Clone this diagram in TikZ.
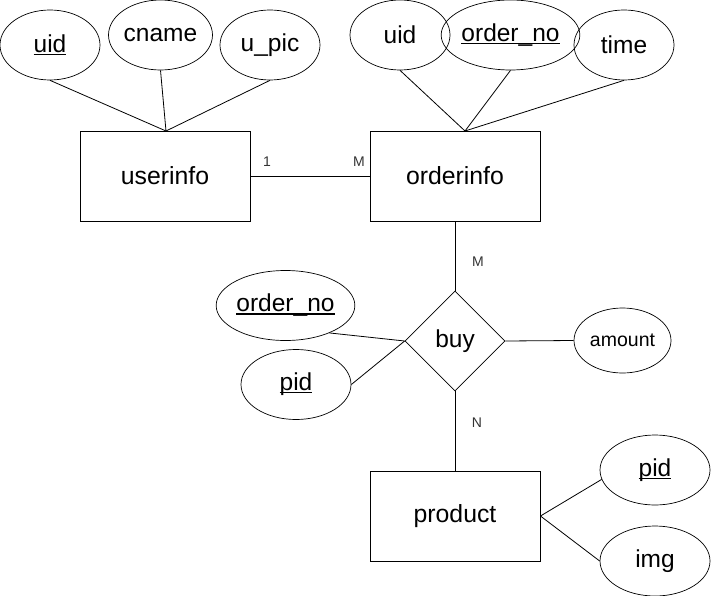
\documentclass[tikz,border=0pt]{standalone}
\usepackage{fontspec}
\setmainfont{Liberation Sans}
\usetikzlibrary{shapes.geometric}
\newcommand\keyul[1]{\setbox0\hbox{#1}\rlap{\rule[-2.6pt]{\wd0}{1.3pt}}\box0}
\tikzset{
  entity/.style={draw, line width=0.9pt, minimum width=170pt, minimum height=90pt, inner sep=0pt, font=\fontsize{24.8}{28}\selectfont},
  attr/.style={draw, ellipse, line width=0.7pt, minimum width=100pt, minimum height=70pt, inner sep=0pt, font=\fontsize{24.5}{28}\selectfont},
  wattr/.style={attr, minimum width=110pt},
  rel/.style={draw, diamond, aspect=1, line width=0.7pt, minimum width=100pt, minimum height=100pt, inner sep=0pt, font=\fontsize{24.5}{28}\selectfont},
  conn/.style={line width=0.8pt},
  card/.style={font=\fontsize{14}{16}\selectfont, text=black!80, inner sep=0pt}
}
\begin{document}
\begin{tikzpicture}[x=1pt,y=-1pt]
\useasboundingbox (0,0) rectangle (711,596);
% entities
\node[entity] (ui) at (165,176) {userinfo};
\node[entity] (oi) at (455,176) {orderinfo};
\node[entity] (pr) at (455,516) {product};
\node[rel] (buy) at (455,341) {buy};
% attributes
\node[attr] (a1) at (50,45) {\keyul{uid}};
\node[attr] (a2) at (160.5,35) {cname};
\node[attr] (a3) at (270,45) {u\_pic};
\node[attr] (b1) at (400,35) {uid};
\node[wattr] (b2) at (510.5,35) {\keyul{order\_no}};
\node[attr] (b3) at (624,45) {time};
\node[wattr] (c1) at (285.5,305.5) {\keyul{order\_no}};
\node[wattr] (c2) at (296,384.5) {\keyul{pid}};
\node[attr, minimum width=97pt, minimum height=65pt, font=\fontsize{19.5}{23}\selectfont] (c3) at (622.5,340.5) {amount};
\node[wattr] (d1) at (655,470) {\keyul{pid}};
\node[wattr] (d2) at (655,561) {img};
% meeting points
\coordinate (uitop) at (166,131);
\coordinate (oitop) at (465,131);
% connectors
\draw[conn] (a1.south) -- (uitop);
\draw[conn] (a2.south) -- (uitop);
\draw[conn] (a3.south) -- (uitop);
\draw[conn] (b1.south) -- (oitop);
\draw[conn] (b2.south) -- (oitop);
\draw[conn] (b3.south) -- (oitop);
\draw[conn] (ui.east) -- (oi.west);
\draw[conn] (oi.south) -- (buy.north);
\draw[conn] (buy.south) -- (pr.north);
\draw[conn] (buy.east) -- (c3.west);
\draw[conn] (c1.-32) -- (buy.west);
\draw[conn] (c2.east) -- (buy.west);
\draw[conn] (pr.east) -- (d1.190);
\draw[conn] (pr.east) -- (d2.west);
% cardinalities
\node[card] (l1) at (267,162) {1};
\node[card] (l2) at (359,162) {M};
\node[card] (l3) at (478,262) {M};
\node[card] (l4) at (477,423) {N};
\end{tikzpicture}
\end{document}
